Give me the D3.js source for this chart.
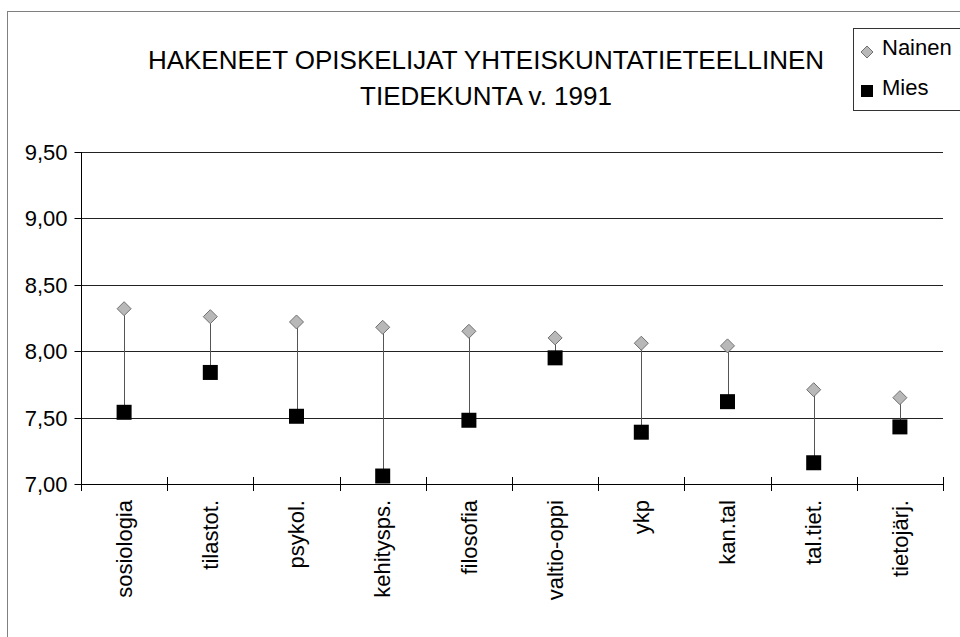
<!DOCTYPE html>
<html>
<head>
<meta charset="utf-8">
<script src="https://cdn.jsdelivr.net/npm/d3@7"></script>
<style>
  body { margin: 0; background: #fff; }
  text { font-family: "Liberation Sans", Arial, sans-serif; fill: #000; }
</style>
</head>
<body>
<script>
// data
var categories = ["sosiologia", "tilastot.", "psykol.", "kehitysps.", "filosofia",
                  "valtio-oppi", "ykp", "kan.tal", "tal.tiet.", "tietojärj."];
var nainen = [8.32, 8.26, 8.22, 8.18, 8.15, 8.10, 8.06, 8.04, 7.71, 7.65];
var mies   = [7.54, 7.84, 7.51, 7.06, 7.48, 7.95, 7.39, 7.62, 7.16, 7.43];
var yTicks = [7.0, 7.5, 8.0, 8.5, 9.0, 9.5];
var titleLines = ["HAKENEET OPISKELIJAT YHTEISKUNTATIETEELLINEN", "TIEDEKUNTA v. 1991"];
var seriesNames = ["Nainen", "Mies"];

var width = 960, height = 637;
var svg = d3.select("body").append("svg")
    .attr("width", width)
    .attr("height", height);

var x = d3.scaleBand()
    .domain(categories)
    .range([81, 943])
    .padding(0);

var y = d3.scaleLinear()
    .domain([7, 9.5])
    .range([484, 152]);

var fmt = function(d) { return d3.format(".2f")(d).replace(".", ","); };

// outer chart frame
svg.append("rect")
    .attr("x", 7.5).attr("y", 11.5)
    .attr("width", 1000).attr("height", 700)
    .attr("fill", "none")
    .attr("stroke", "#808080");

// title
svg.selectAll(".title")
    .data(titleLines)
    .enter().append("text")
    .attr("class", "title")
    .attr("x", 486)
    .attr("y", function(d, i) { return 69 + i * 36; })
    .attr("text-anchor", "middle")
    .style("font-size", "26px")
    .text(function(d) { return d; });

// grid lines
svg.selectAll(".grid")
    .data(yTicks.slice(1))
    .enter().append("line")
    .attr("class", "grid")
    .attr("x1", 81).attr("x2", 943)
    .attr("y1", function(d) { return Math.round(y(d)) + 0.5; })
    .attr("y2", function(d) { return Math.round(y(d)) + 0.5; })
    .attr("stroke", "#222");

// y axis
var yAxis = svg.append("g").attr("transform", "translate(81.5,0)");
yAxis.append("line")
    .attr("y1", y(9.5)).attr("y2", y(7))
    .attr("stroke", "#000");
yAxis.selectAll(".ytick")
    .data(yTicks)
    .enter().append("line")
    .attr("x1", -7).attr("x2", 0)
    .attr("y1", function(d) { return Math.round(y(d)) + 0.5; })
    .attr("y2", function(d) { return Math.round(y(d)) + 0.5; })
    .attr("stroke", "#000");
yAxis.selectAll(".ylabel")
    .data(yTicks)
    .enter().append("text")
    .attr("x", -14)
    .attr("y", function(d) { return y(d); })
    .attr("dy", "0.36em")
    .attr("text-anchor", "end")
    .style("font-size", "22px")
    .text(fmt);

// x axis
var xAxis = svg.append("g");
xAxis.append("line")
    .attr("x1", 81).attr("x2", 943)
    .attr("y1", Math.round(y(7)) + 0.5).attr("y2", Math.round(y(7)) + 0.5)
    .attr("stroke", "#000");
var bounds = categories.map(function(c) { return x(c); }).concat([x.range()[1]]);
xAxis.selectAll(".xtick")
    .data(bounds)
    .enter().append("line")
    .attr("x1", function(d) { return Math.round(d) + 0.5; })
    .attr("x2", function(d) { return Math.round(d) + 0.5; })
    .attr("y1", y(7) - 7).attr("y2", y(7) + 7)
    .attr("stroke", "#000");
xAxis.selectAll(".xlabel")
    .data(categories)
    .enter().append("text")
    .attr("transform", function(d) {
        return "translate(" + (x(d) + x.bandwidth() / 2) + ",500) rotate(-90)";
    })
    .attr("dy", "0.35em")
    .attr("text-anchor", "end")
    .style("font-size", "22px")
    .text(function(d) { return d; });

// high-low lines
svg.selectAll(".hilo")
    .data(categories)
    .enter().append("line")
    .attr("class", "hilo")
    .attr("x1", function(d) { return Math.round(x(d) + x.bandwidth() / 2) + 0.5; })
    .attr("x2", function(d) { return Math.round(x(d) + x.bandwidth() / 2) + 0.5; })
    .attr("y1", function(d, i) { return y(nainen[i]); })
    .attr("y2", function(d, i) { return y(mies[i]); })
    .attr("stroke", "#555");

function diamond(g, cx, cy, r) {
    g.append("path")
        .attr("d", "M" + cx + "," + (cy - r) + "L" + (cx + r) + "," + cy +
                   "L" + cx + "," + (cy + r) + "L" + (cx - r) + "," + cy + "Z")
        .attr("fill", "#b8b8b8")
        .attr("stroke", "#707070")
        .attr("stroke-width", 1);
}

// Mies squares
svg.selectAll(".mies")
    .data(categories)
    .enter().append("rect")
    .attr("class", "mies")
    .attr("x", function(d) { return x(d) + x.bandwidth() / 2 - 7.5; })
    .attr("y", function(d, i) { return y(mies[i]) - 7.5; })
    .attr("width", 15).attr("height", 15)
    .attr("fill", "#000");

// Nainen diamonds
var dg = svg.append("g");
categories.forEach(function(c, i) {
    diamond(dg, x(c) + x.bandwidth() / 2, y(nainen[i]), 7);
});

// legend
var lg = svg.append("g");
lg.append("rect")
    .attr("x", 853.5).attr("y", 28.5)
    .attr("width", 200).attr("height", 82)
    .attr("fill", "#fff")
    .attr("stroke", "#333");
diamond(lg, 867, 52, 6);
lg.append("rect")
    .attr("x", 861).attr("y", 85)
    .attr("width", 12).attr("height", 12)
    .attr("fill", "#000");
lg.selectAll(".ltext")
    .data(seriesNames)
    .enter().append("text")
    .attr("x", 882)
    .attr("y", function(d, i) { return 55 + i * 40; })
    .style("font-size", "22px")
    .text(function(d) { return d; });
</script>
</body>
</html>
